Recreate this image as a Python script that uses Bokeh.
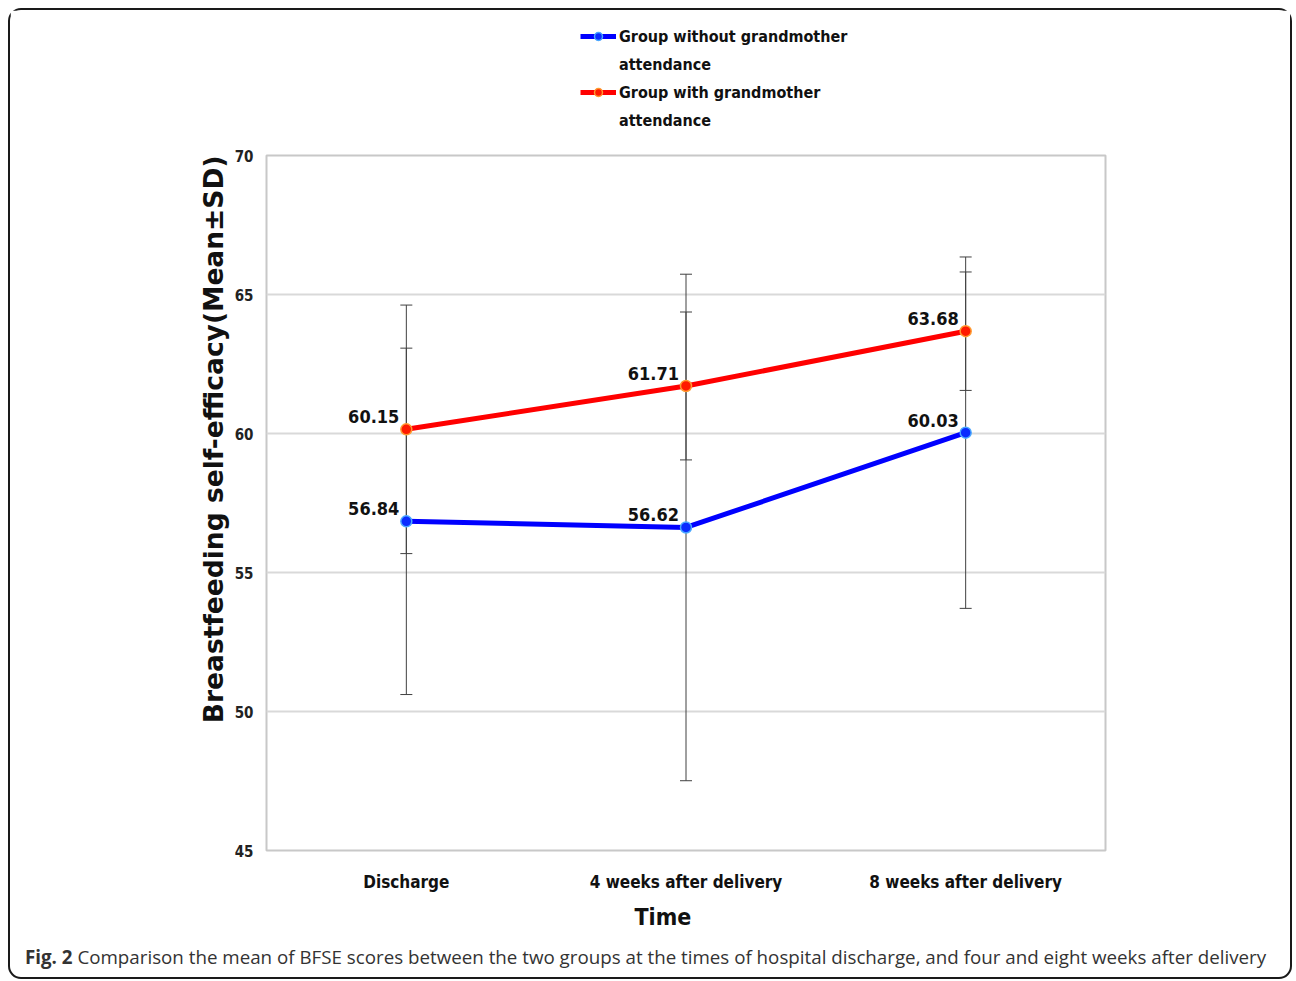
from bokeh.plotting import figure
from bokeh.models import (ColumnDataSource, Whisker, TeeHead, Legend, LegendItem,
                          FixedTicker, Range1d, FactorRange, Div, Title)
from bokeh.layouts import column
from bokeh.core.properties import value
from bokeh.embed import file_html
from bokeh.resources import INLINE

# ---------------- data ----------------
times = ["Discharge", "4 weeks after delivery", "8 weeks after delivery"]
without_mean = [56.84, 56.62, 60.03]
without_sd = [6.23, 9.11, 6.32]
with_mean = [60.15, 61.71, 63.68]
with_sd = [4.47, 2.66, 2.13]
y_ticks = [45, 50, 55, 60, 65, 70]
series_names = ["Group without grandmother\nattendance",
                "Group with grandmother\nattendance"]
y_title = "Breastfeeding self-efficacy(Mean\u00b1SD)"
x_title = "Time"
caption_bold = "Fig. 2"
caption_text = ("Comparison the mean of BFSE scores between the two groups at the times of "
                "hospital discharge, and four and eight weeks after delivery")

COND_NAME = "DejaVu Sans Condensed, Roboto"
COND = value(COND_NAME)
BLUE, BLUE_M, BLUE_E = "#0000ff", "#0a2cff", "#4aa8ff"
RED, RED_M, RED_E = "#ff0000", "#ff1a00", "#ff9a30"

src_wo = ColumnDataSource(dict(x=times, y=without_mean,
                               lo=[m - s for m, s in zip(without_mean, without_sd)],
                               hi=[m + s for m, s in zip(without_mean, without_sd)],
                               t=[f"{v:.2f}" for v in without_mean]))
src_w = ColumnDataSource(dict(x=times, y=with_mean,
                              lo=[m - s for m, s in zip(with_mean, with_sd)],
                              hi=[m + s for m, s in zip(with_mean, with_sd)],
                              t=[f"{v:.2f}" for v in with_mean]))

# ---------------- main chart ----------------
p = figure(x_range=FactorRange(*times), y_range=Range1d(45, 70),
           width=1280, height=792, output_backend="svg", toolbar_location=None,
           min_border_left=256, min_border_right=185,
           min_border_top=10, min_border_bottom=86)
p.background_fill_color = "white"
p.border_fill_color = "white"
p.outline_line_color = "#c8c8c8"
p.outline_line_width = 2

p.yaxis.ticker = FixedTicker(ticks=y_ticks)
p.yaxis.axis_line_color = None
p.yaxis.major_tick_line_color = None
p.yaxis.minor_tick_line_color = None
p.yaxis.major_tick_out = 0
p.yaxis.major_label_text_font = COND_NAME
p.yaxis.major_label_text_font_style = "bold"
p.yaxis.major_label_text_font_size = "15px"
p.yaxis.major_label_text_color = "#222222"
p.yaxis.major_label_standoff = 13

yt = Title(text=y_title, align="right", text_font="DejaVu Sans", text_font_style="bold",
           text_font_size="26.5px", text_color="#111111", standoff=6)
p.add_layout(yt, "left")

p.xaxis.axis_line_color = None
p.xaxis.major_tick_line_color = None
p.xaxis.minor_tick_line_color = None
p.xaxis.major_tick_out = 0
p.xaxis.major_label_text_font = COND_NAME
p.xaxis.major_label_text_font_style = "bold"
p.xaxis.major_label_text_font_size = "17px"
p.xaxis.major_label_text_color = "#111111"
p.xaxis.major_label_standoff = 21

xt = Title(text=x_title, align="left", offset=368, text_font=COND_NAME,
           text_font_style="bold", text_font_size="23px", text_color="#111111",
           standoff=15)
p.add_layout(xt, "below")

p.xgrid.grid_line_color = None
p.ygrid.grid_line_color = "#d9d9d9"
p.ygrid.grid_line_width = 2
p.ygrid.ticker = FixedTicker(ticks=y_ticks)

for src in (src_wo, src_w):
    wk = Whisker(source=src, base="x", lower="lo", upper="hi",
                 line_color="#404040", line_width=1,
                 upper_head=TeeHead(size=12, line_color="#404040", line_width=1),
                 lower_head=TeeHead(size=12, line_color="#404040", line_width=1))
    p.add_layout(wk)

p.line("x", "y", source=src_wo, line_color=BLUE, line_width=5)
p.scatter("x", "y", source=src_wo, size=11, fill_color=BLUE_M, line_color=BLUE_E, line_width=1.5)
p.line("x", "y", source=src_w, line_color=RED, line_width=5)
p.scatter("x", "y", source=src_w, size=11, fill_color=RED_M, line_color=RED_E, line_width=1.5)

for src in (src_wo, src_w):
    p.text("x", "y", text="t", source=src, text_font=COND, text_font_style="bold",
           text_font_size="18px", text_color="#111111", text_align="right",
           text_baseline="bottom", x_offset=-7, y_offset=-6)

# ---------------- legend strip above the chart ----------------
# same series drawn against a range where they fall out of view: only the legend shows
lf = figure(width=1280, height=135, output_backend="svg", toolbar_location=None,
            x_range=FactorRange(*times), y_range=Range1d(0, 1), min_border=0)
lf.axis.visible = False
lf.grid.visible = False
lf.outline_line_color = None
lf.background_fill_color = "white"
lf.border_fill_color = "white"
ll1 = lf.line("x", "y", source=src_wo, line_color=BLUE, line_width=5)
ls1 = lf.scatter("x", "y", source=src_wo, size=11, fill_color=BLUE_M, line_color=BLUE_E, line_width=1.5)
ll2 = lf.line("x", "y", source=src_w, line_color=RED, line_width=5)
ls2 = lf.scatter("x", "y", source=src_w, size=11, fill_color=RED_M, line_color=RED_E, line_width=1.5)

items = []
for name, rends in zip(series_names, ([ll1, ls1], [ll2, ls2])):
    first, rest = name.split("\n", 1)
    items.append(LegendItem(label=first, renderers=rends, index=0))
    items.append(LegendItem(label=rest, renderers=[]))

legend = Legend(items=items, location=(314, 15), orientation="vertical",
                border_line_color=None, background_fill_alpha=0,
                label_text_font=COND_NAME, label_text_font_style="bold",
                label_text_font_size="16px", label_text_color="#111111",
                glyph_width=36, glyph_height=20, label_height=20, label_standoff=3,
                padding=0, margin=0, spacing=8)
lf.add_layout(legend)

# ---------------- caption ----------------
cap = Div(text=f"<b>{caption_bold}</b> {caption_text}", width=1280, height=40,
          styles={"font-family": "'Open Sans', sans-serif", "font-size": "18.75px",
                  "color": "#333333", "white-space": "nowrap",
                  "padding-left": "10px", "padding-top": "3px", "line-height": "24px"})

col = column(lf, p, cap, width=1284, height=971,
             styles={"border": "2px solid #1a1a1a", "border-radius": "13px",
                     "margin-left": "8px", "margin-top": "8px", "background": "white"})

open("out.html", "w").write(file_html(col, INLINE))
